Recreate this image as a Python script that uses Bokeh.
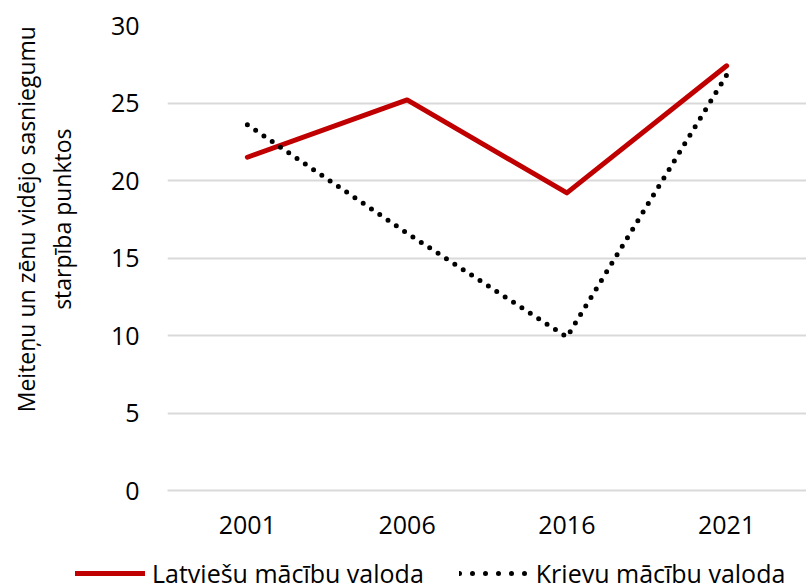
from bokeh.plotting import figure
from bokeh.models import Legend, LegendItem, FixedTicker, Range1d, FactorRange
from bokeh.embed import file_html
from bokeh.resources import INLINE

years = ["2001", "2006", "2016", "2021"]
latviesu = [21.5, 25.2, 19.2, 27.4]
krievu = [23.6, 16.6, 9.9, 26.8]
y_ticks = [0, 5, 10, 15, 20, 25, 30]
series_names = ["Latviešu mācību valoda", "Krievu mācību valoda"]
title_lines = ["Meiteņu un zēnu vidējo sasniegumu", "starpība punktos"]

FONT = "Open Sans"
RED = "#C00000"
PAD = "\u00a0" * 13  # shifts the centred axis title upwards, as in the reference

p = figure(frame_width=639, frame_height=465, x_range=FactorRange(*years), y_range=Range1d(0, 30),
           output_backend="svg", toolbar_location=None,
           min_border_left=167, min_border_right=0, min_border_top=25, min_border_bottom=66)
p.outline_line_color = None
p.background_fill_color = "white"
p.border_fill_color = "white"

p.line(years, latviesu, line_color=RED, line_width=5, line_join="round", line_cap="round")
p.line(years, krievu, line_color="black", line_width=5, line_dash="0 10", line_cap="round")

p.yaxis.ticker = FixedTicker(ticks=y_ticks)
p.ygrid.grid_line_color = "#D9D9D9"
p.ygrid.grid_line_width = 2
p.xgrid.grid_line_color = None

for ax in (p.xaxis, p.yaxis):
    ax.major_tick_line_color = None
    ax.minor_tick_line_color = None
    ax.major_tick_out = 0
    ax.major_tick_in = 0
    ax.minor_tick_out = 0
    ax.minor_tick_in = 0
    ax.major_label_text_font = FONT
    ax.major_label_text_font_size = "25px"
    ax.major_label_text_color = "black"
p.yaxis.axis_line_color = None
p.xaxis.axis_line_color = "#D9D9D9"
p.xaxis.axis_line_width = 2
p.yaxis.major_label_standoff = 28
p.xaxis.major_label_standoff = 25

p.yaxis.axis_label = "\n".join(PAD + t for t in title_lines)
p.yaxis.axis_label_text_font = FONT
p.yaxis.axis_label_text_font_size = "23px"
p.yaxis.axis_label_text_font_style = "normal"
p.yaxis.axis_label_text_color = "black"
p.yaxis.axis_label_text_line_height = 1.13
p.yaxis.axis_label_standoff = 30

# legend strip below the chart; its lines hold the same data but lie outside its view
lg = figure(width=806, height=30, x_range=FactorRange(*years), y_range=Range1d(0, 1),
            output_backend="svg", toolbar_location=None,
            x_axis_location=None, y_axis_location=None,
            min_border_left=0, min_border_right=0, min_border_top=0, min_border_bottom=0)
lg.outline_line_color = None
lg.xgrid.visible = False
lg.ygrid.visible = False
lg.background_fill_color = "white"
lg.border_fill_color = "white"
k1 = lg.line(years, latviesu, line_color=RED, line_width=5, line_cap="round")
k2 = lg.line(years, krievu, line_color="black", line_width=5, line_dash="0 13", line_cap="round")

legend = Legend(items=[LegendItem(label=series_names[0], renderers=[k1]),
                       LegendItem(label=series_names[1], renderers=[k2])],
                orientation="horizontal", location=(75, -4))
legend.label_text_font = FONT
legend.label_text_font_size = "25px"
legend.label_text_color = "black"
legend.label_height = 30
legend.glyph_height = 30
legend.glyph_width = 70
legend.label_standoff = 7
legend.spacing = 35
legend.border_line_color = None
legend.background_fill_alpha = 0
legend.padding = 0
legend.margin = 0
lg.add_layout(legend, "center")

open("out.html", "w").write(file_html([p, lg], INLINE))
